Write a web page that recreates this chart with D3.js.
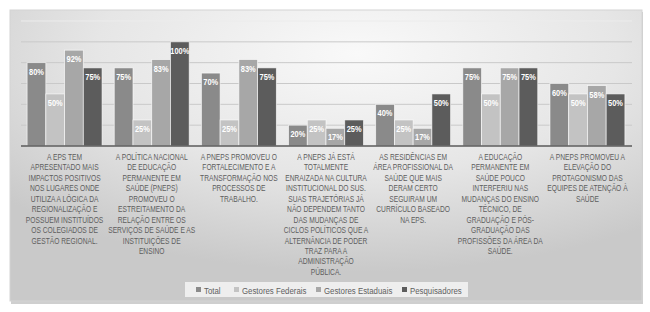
<!DOCTYPE html>
<html>
<head>
<meta charset="utf-8">
<style>
  body { margin: 0; background: #fff; }
  svg text { font-family: "Liberation Sans", Arial, sans-serif; }
</style>
</head>
<body>
<svg id="chart"></svg>
<script src="https://cdn.jsdelivr.net/npm/d3@7"></script>
<script>
  let width = 650,
      height = 312;

  let series = ["Total", "Gestores Federais", "Gestores Estaduais", "Pesquisadores"]
  let colors = ["#8a8a8a", "#c3c3c3", "#a7a7a7", "#5c5c5c"]

  let categories = [
    ["A EPS TEM", "APRESENTADO MAIS", "IMPACTOS POSITIVOS", "NOS LUGARES ONDE", "UTILIZA A LÓGICA DA", "REGIONALIZAÇÃO E", "POSSUEM INSTITUÍDOS", "OS COLEGIADOS DE", "GESTÃO REGIONAL."],
    ["A POLÍTICA NACIONAL", "DE EDUCAÇÃO", "PERMANENTE EM", "SAÚDE (PNEPS)", "PROMOVEU O", "ESTREITAMENTO DA", "RELAÇÃO ENTRE OS", "SERVIÇOS DE SAÚDE E AS", "INSTITUIÇÕES DE", "ENSINO"],
    ["A PNEPS PROMOVEU O", "FORTALECIMENTO E A", "TRANSFORMAÇÃO NOS", "PROCESSOS DE", "TRABALHO."],
    ["A PNEPS JÁ ESTÁ", "TOTALMENTE", "ENRAIZADA NA CULTURA", "INSTITUCIONAL DO SUS.", "SUAS TRAJETÓRIAS JÁ", "NÃO DEPENDEM TANTO", "DAS MUDANÇAS DE", "CICLOS POLÍTICOS QUE A", "ALTERNÂNCIA DE PODER", "TRAZ PARA A", "ADMINISTRAÇÃO", "PÚBLICA."],
    ["AS RESIDÊNCIAS EM", "ÁREA PROFISSIONAL DA", "SAÚDE QUE MAIS", "DERAM CERTO", "SEGUIRAM UM", "CURRÍCULO BASEADO", "NA EPS."],
    ["A EDUCAÇÃO", "PERMANENTE EM", "SAÚDE POUCO", "INTERFERIU NAS", "MUDANÇAS DO ENSINO", "TÉCNICO, DE", "GRADUAÇÃO E PÓS-", "GRADUAÇÃO DAS", "PROFISSÕES DA ÁREA DA", "SAÚDE."],
    ["A PNEPS PROMOVEU A", "ELEVAÇÃO DO", "PROTAGONISMO DAS", "EQUIPES DE ATENÇÃO À", "SAÚDE"]
  ]

  let total        = [80, 75, 70, 20, 40, 75, 60]
  let federais     = [50, 25, 25, 25, 25, 50, 50]
  let estaduais    = [92, 83, 83, 17, 17, 75, 58]
  let pesquisadores = [75, 100, 75, 25, 50, 75, 50]
  let yTicks = [0, 20, 40, 60, 80, 100, 120]

  let values = [total, federais, estaduais, pesquisadores]

  // narrow look: squeeze text horizontally
  let squeeze = 0.8

  let svg = d3.select("#chart").attr("width", width).attr("height", height)

  // panel background
  let defs = svg.append("defs")
  let grad = defs.append("radialGradient")
    .attr("id", "bg")
    .attr("cx", "55%").attr("cy", "15%").attr("r", "75%")
  grad.append("stop").attr("offset", "0%").attr("stop-color", "#f9f9f9")
  grad.append("stop").attr("offset", "55%").attr("stop-color", "#e6e6e6")
  grad.append("stop").attr("offset", "100%").attr("stop-color", "#c9c9c9")

  svg.append("rect")
    .attr("x", 11).attr("y", 12).attr("width", 632).attr("height", 292)
    .attr("fill", "#cfcfcf")
  svg.append("rect")
    .attr("x", 10).attr("y", 10).attr("width", 632).attr("height", 291)
    .attr("fill", "url(#bg)")
    .attr("stroke", "#d4d4d4")

  let x = d3.scaleBand()
    .domain(d3.range(categories.length))
    .range([21, 631])
    .paddingInner(0.14)
    .paddingOuter(0.07)

  let xs = d3.scaleBand()
    .domain(series)
    .range([0, x.bandwidth()])

  let y = d3.scaleLinear().domain([0, 120]).range([146, 21])

  // gridlines
  svg.append("g")
    .selectAll("line")
    .data(yTicks.slice(1))
    .enter()
    .append("line")
    .attr("x1", 21).attr("x2", 632)
    .attr("y1", d => y(d)).attr("y2", d => y(d))
    .attr("stroke", (d) => d == 120 ? "#ececec" : "#c9c9c9")
    .attr("stroke-width", 1)

  // bars
  let groups = svg.append("g")
    .selectAll("g")
    .data(series)
    .enter()
    .append("g")

  groups.selectAll("rect")
    .data((s, i) => values[i].map((v, c) => ({ s: s, i: i, c: c, v: v })))
    .enter()
    .append("rect")
    .attr("x", d => x(d.c) + xs(d.s))
    .attr("y", d => y(d.v))
    .attr("width", xs.bandwidth())
    .attr("height", d => y(0) - y(d.v))
    .attr("fill", d => colors[d.i])
    .attr("stroke", "rgba(255,255,255,0.75)")
    .attr("stroke-width", 0.8)

  groups.selectAll("text")
    .data((s, i) => values[i].map((v, c) => ({ s: s, i: i, c: c, v: v })))
    .enter()
    .append("text")
    .attr("transform", d => `translate(${x(d.c) + xs(d.s) + xs.bandwidth() / 2},${y(d.v) + 12}) scale(${squeeze},1)`)
    .attr("text-anchor", "middle")
    .attr("fill", "#fff")
    .attr("font-size", 9.3)
    .attr("font-weight", "bold")
    .text(d => d.v + "%")

  // baseline
  svg.append("line")
    .attr("x1", 21).attr("x2", 632)
    .attr("y1", y(0)).attr("y2", y(0))
    .attr("stroke", "#5a5a5a")
    .attr("stroke-width", 1.5)

  // category labels
  svg.append("g")
    .selectAll("text")
    .data(categories)
    .enter()
    .append("text")
    .attr("transform", (d, c) => `translate(${x(c) + x.bandwidth() / 2},160) scale(0.76,1)`)
    .attr("text-anchor", "middle")
    .attr("fill", "#5e5e5e")
    .attr("font-size", 8.8)
    .each(function (lines) {
      d3.select(this).selectAll("tspan")
        .data(lines)
        .enter()
        .append("tspan")
        .attr("x", 0)
        .attr("y", (d, k) => k * 10.45)
        .text(d => d)
    })

  // legend
  svg.append("rect")
    .attr("x", 185).attr("y", 282).attr("width", 283).attr("height", 15)
    .attr("fill", "#eeeeee")
  let legendX = [196, 234, 316, 402]
  let legend = svg.append("g")
    .selectAll("g")
    .data(series)
    .enter()
    .append("g")
    .attr("transform", (d, i) => `translate(${legendX[i]},290)`)
  legend.append("rect")
    .attr("x", 0).attr("y", -3).attr("width", 5).attr("height", 5)
    .attr("fill", (d, i) => colors[i])
  legend.append("text")
    .attr("transform", `translate(8,3.5) scale(${squeeze},1)`)
    .attr("fill", "#606060")
    .attr("font-size", 9.8)
    .text(d => d)
</script>
</body>
</html>
